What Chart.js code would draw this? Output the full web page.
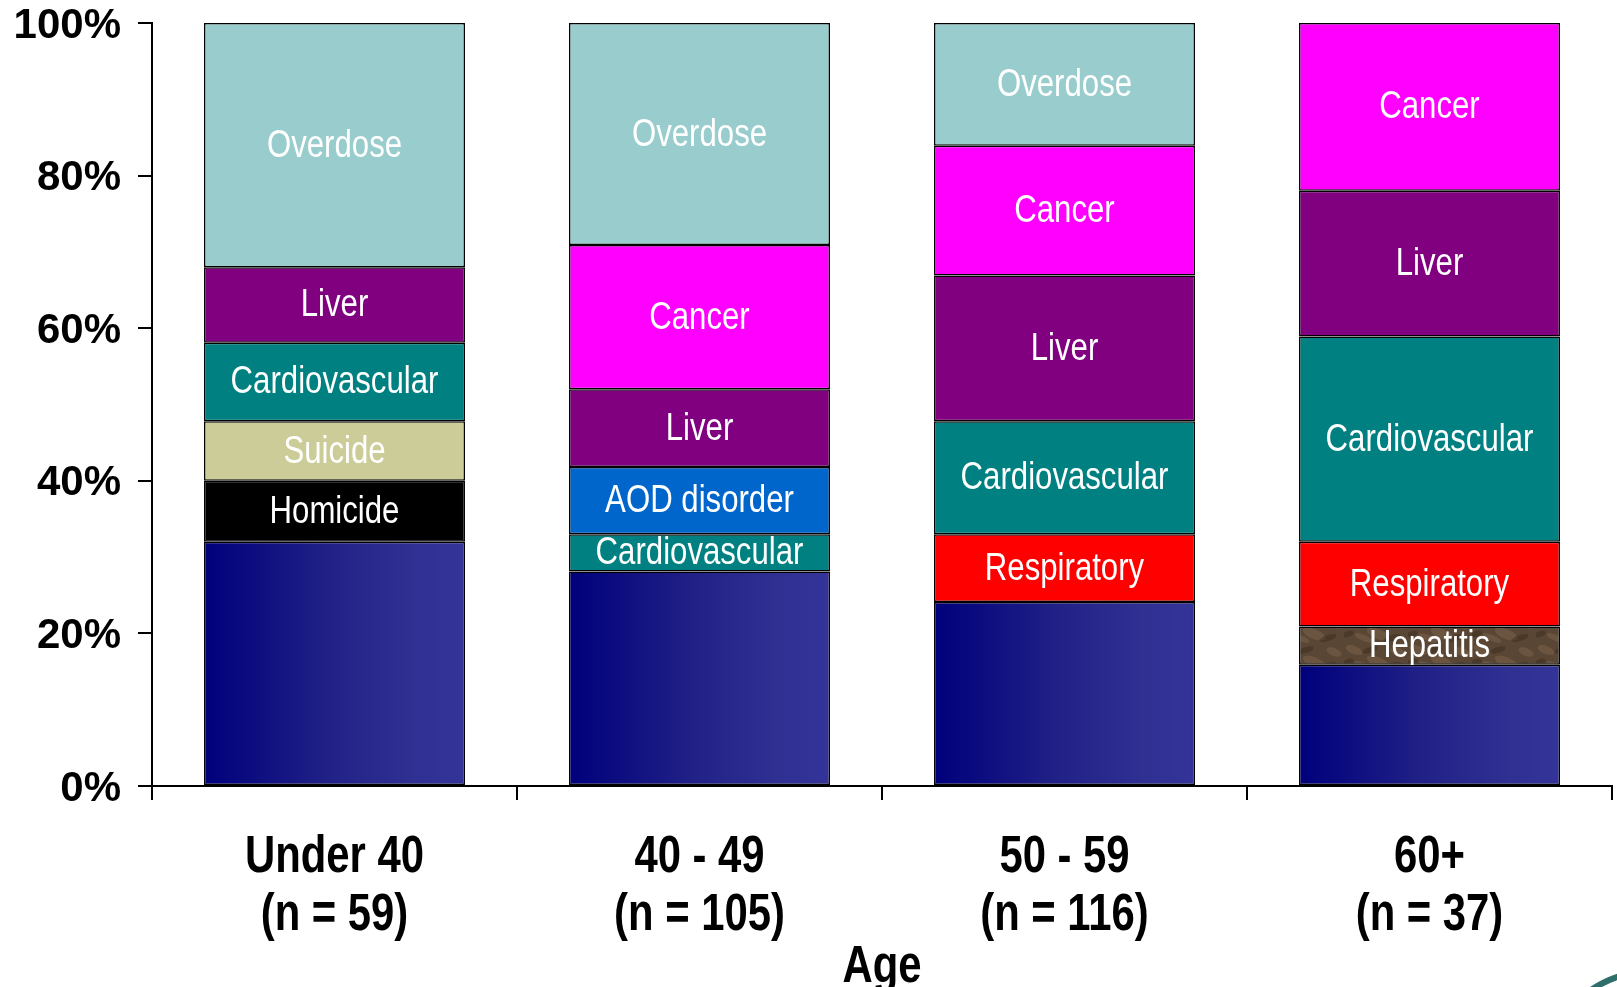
<!DOCTYPE html>
<html>
<head>
<meta charset="utf-8">
<script src="https://cdn.jsdelivr.net/npm/chart.js@4/dist/chart.umd.min.js"></script>
<style>
  html, body { margin: 0; padding: 0; background: #fff; }
  #wrap { width: 1617px; height: 987px; }
</style>
</head>
<body>
<div id="wrap"><canvas id="causeChart" width="1617" height="987"></canvas></div>
<script>
const ageGroups = [['Under 40', '(n = 59)'], ['40 - 49', '(n = 105)'], ['50 - 59', '(n = 116)'], ['60+', '(n = 37)']];
const axisTitle = 'Age';
const yTicks = [0, 20, 40, 60, 80, 100];

// percent of deaths, bottom to top of each bar
const other          = [32.0, 28.1, 24.1, 15.9];
const hepatitis      = [null, null, null, 5.0];
const homicide       = [8.0, null, null, null];
const suicide        = [7.8, null, null, null];
const respiratory    = [null, null, 8.9, 11.1];
const cardiovascular = [10.3, 4.9, 14.8, 26.9];
const aodDisorder    = [null, 8.8, null, null];
const liver          = [9.9, 10.2, 19.1, 19.1];
const cancer         = [null, 18.9, 17.0, 22.0];
const overdose       = [32.0, 29.1, 16.1, null];

const SANS = "'Liberation Sans', Arial, sans-serif";
const SQUEEZE = 0.82;   // no narrow face installed, so squash Liberation Sans
const BAR_PCT = 0.715;

function otherFill(c) {
  const chart = c.chart;
  const xs = chart.scales.x;
  if (!chart.chartArea || !xs) return '#1c1c88';
  const cx = xs.getPixelForTick(c.dataIndex);
  const w = xs.width / ageGroups.length * BAR_PCT;
  const g = chart.ctx.createLinearGradient(cx - w / 2, 0, cx + w / 2, 0);
  g.addColorStop(0, '#00007c');
  g.addColorStop(0.45, '#1f1f86');
  g.addColorStop(0.8, '#303093');
  g.addColorStop(1, '#333399');
  return g;
}

// mottled brown swatch for hepatitis
function woodPattern() {
  const c = document.createElement('canvas');
  c.width = 64; c.height = 28;
  const p = c.getContext('2d');
  p.fillStyle = '#5a4634';
  p.fillRect(0, 0, 64, 28);
  p.fillStyle = 'rgba(140,115,90,0.35)';
  [[10, 6, 9, 4], [34, 18, 12, 5], [54, 8, 8, 4], [20, 22, 10, 3]].forEach(([x, y, rx, ry]) => {
    p.beginPath(); p.ellipse(x, y, rx, ry, 0.4, 0, Math.PI * 2); p.fill();
  });
  p.fillStyle = 'rgba(45,32,22,0.35)';
  [[26, 6, 8, 3], [48, 22, 9, 3], [4, 18, 6, 3]].forEach(([x, y, rx, ry]) => {
    p.beginPath(); p.ellipse(x, y, rx, ry, -0.3, 0, Math.PI * 2); p.fill();
  });
  return p.createPattern(c, 'repeat');
}

function squeezedText(ctx, text, x, y) {
  ctx.save();
  ctx.translate(x, y);
  ctx.scale(SQUEEZE, 1);
  ctx.fillText(text, 0, 0);
  ctx.restore();
}

const textLayer = {
  id: 'textLayer',
  afterDatasetsDraw(chart) {
    const ctx = chart.ctx;
    ctx.save();
    ctx.fillStyle = '#fff';
    ctx.font = '38px ' + SANS;
    ctx.textAlign = 'center';
    ctx.textBaseline = 'middle';
    chart.data.datasets.forEach((ds, i) => {
      if (!ds.label) return;
      chart.getDatasetMeta(i).data.forEach((el, j) => {
        if (ds.data[j] == null) return;
        squeezedText(ctx, ds.label, el.x, (el.y + el.base) / 2 + 1);
      });
    });

    // category labels and axis title
    const xs = chart.scales.x;
    ctx.fillStyle = '#000';
    ctx.font = 'bold 51px ' + SANS;
    ageGroups.forEach((lines, i) => {
      const cx = xs.getPixelForTick(i);
      lines.forEach((t, k) => squeezedText(ctx, t, cx, xs.top + 72 + k * 58));
    });
    squeezedText(ctx, axisTitle, (chart.chartArea.left + chart.chartArea.right) / 2, xs.top + 182);

    // slide corner swoosh
    ctx.strokeStyle = '#2f6f6b';
    ctx.lineWidth = 6;
    ctx.beginPath();
    ctx.moveTo(1588, 992);
    ctx.quadraticCurveTo(1602, 982, 1620, 976);
    ctx.stroke();
    ctx.restore();
  }
};

function seg(label, data, color) {
  return {
    label, data,
    backgroundColor: color,
    borderColor: '#000',
    borderWidth: 1.5,
    borderSkipped: false,
    categoryPercentage: 1,
    barPercentage: BAR_PCT
  };
}

new Chart(document.getElementById('causeChart').getContext('2d'), {
  type: 'bar',
  data: {
    labels: ageGroups,
    datasets: [
      seg('', other, otherFill),
      seg('Hepatitis', hepatitis, woodPattern()),
      seg('Homicide', homicide, '#000000'),
      seg('Suicide', suicide, '#cccc99'),
      seg('Respiratory', respiratory, '#ff0000'),
      seg('Cardiovascular', cardiovascular, '#008080'),
      seg('AOD disorder', aodDisorder, '#0066cc'),
      seg('Liver', liver, '#800080'),
      seg('Cancer', cancer, '#ff00ff'),
      seg('Overdose', overdose, '#99cccc')
    ]
  },
  options: {
    responsive: false,
    animation: false,
    layout: { padding: { top: 23, right: 5, left: 0, bottom: 0 } },
    plugins: {
      legend: { display: false },
      tooltip: { enabled: false }
    },
    scales: {
      x: {
        stacked: true,
        afterFit: s => { s.height = 201; s.paddingLeft = 0; s.paddingRight = 0; },
        border: { color: '#000', width: 2 },
        grid: { offset: true, drawOnChartArea: false, color: '#000', lineWidth: 2, tickLength: 14 },
        ticks: { display: false }
      },
      y: {
        stacked: true,
        min: 0, max: 100,
        afterFit: s => { s.width = 152; s.paddingTop = 0; s.paddingBottom = 0; },
        afterBuildTicks: s => { s.ticks = yTicks.map(v => ({ value: v })); },
        border: { color: '#000', width: 2 },
        grid: { drawOnChartArea: false, color: '#000', lineWidth: 2, tickLength: 14 },
        ticks: {
          color: '#000', padding: 17, labelOffset: 3,
          font: { family: SANS, size: 42, weight: 'bold' },
          callback: v => v + '%'
        }
      }
    }
  },
  plugins: [textLayer]
});
</script>
</body>
</html>
